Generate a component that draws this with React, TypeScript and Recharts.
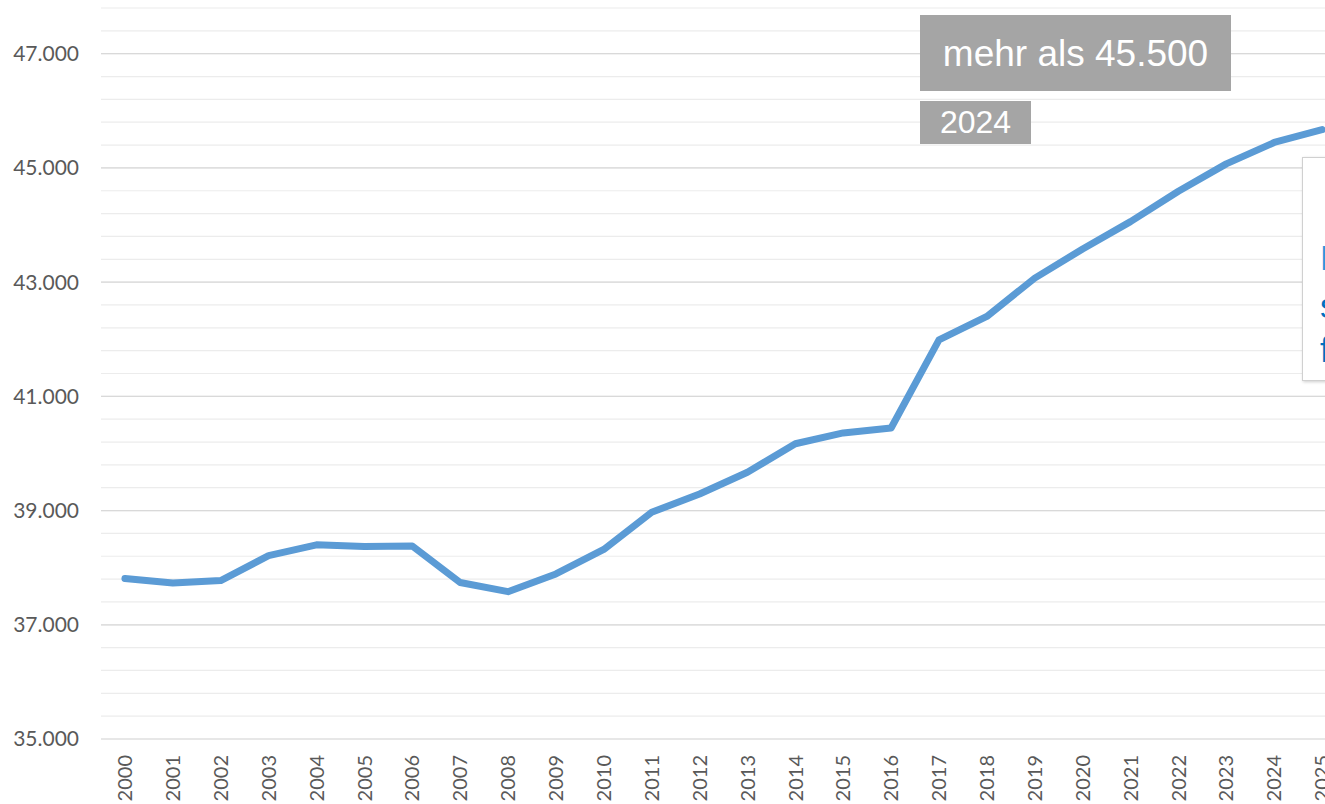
import {
  LineChart,
  Line,
  XAxis,
  YAxis,
  CartesianGrid,
  ReferenceLine,
} from "recharts";

const years = [
  "2000", "2001", "2002", "2003", "2004", "2005", "2006", "2007", "2008",
  "2009", "2010", "2011", "2012", "2013", "2014", "2015", "2016", "2017",
  "2018", "2019", "2020", "2021", "2022", "2023", "2024", "2025",
];

const residents = [
  37810, 37730, 37775, 38210, 38400, 38370, 38380, 37740, 37580, 37890,
  38320, 38970, 39290, 39670, 40170, 40360, 40445, 41990, 42400, 43070,
  43580, 44060, 44590, 45070, 45445, 45670,
];

// every 400 a light grid line, every 2000 a labelled one
const gridTicks = [
  35000, 35400, 35800, 36200, 36600, 37000, 37400, 37800, 38200, 38600,
  39000, 39400, 39800, 40200, 40600, 41000, 41400, 41800, 42200, 42600,
  43000, 43400, 43800, 44200, 44600, 45000, 45400, 45800, 46200, 46600,
  47000, 47400, 47800,
];
const majorTicks = [35000, 37000, 39000, 41000, 43000, 45000, 47000];

const headline = "mehr als 45.500";
const headlineYear = "2024";
const sideNote = ["Neuer Höchststand", "so viele wie nie", "für die Stadt"];

const data = years.map((year, i) => ({ year, value: residents[i] }));

const fmt = (v: number) =>
  majorTicks.includes(v) ? v.toLocaleString("de-DE") : "";

function YearTick({ x, y, payload }: any) {
  return (
    <g transform={`translate(${x},${y})`}>
      <text
        transform="rotate(-90)"
        x={-16}
        y={0}
        dy="0.36em"
        textAnchor="end"
        fill="#595959"
        fontSize={20}
        fontFamily="Lato, sans-serif"
      >
        {payload.value}
      </text>
    </g>
  );
}

export default function App() {
  return (
    <div
      style={{
        position: "absolute",
        left: 0,
        top: 0,
        width: 1325,
        height: 804,
        overflow: "hidden",
        background: "#fff",
      }}
    >
      <LineChart
        width={1346}
        height={804}
        data={data}
        margin={{ top: 8, right: 0, left: 0, bottom: 0 }}
      >
        {/* minor grid */}
        <CartesianGrid vertical={false} stroke="#ececec" strokeWidth={1.2} />

        <XAxis
          dataKey="year"
          scale="band"
          height={65}
          interval={0}
          tickSize={0}
          tickMargin={0}
          axisLine={false}
          tick={<YearTick />}
        />
        <YAxis
          type="number"
          domain={[35000, 47800]}
          ticks={gridTicks}
          interval={0}
          width={101}
          tickSize={0}
          tickMargin={22}
          axisLine={false}
          tickFormatter={fmt}
          tick={{ fill: "#595959", fontSize: 21, fontFamily: "Lato, sans-serif" }}
        />

        {/* major grid */}
        {majorTicks.map((v) => (
          <ReferenceLine key={v} y={v} stroke="#d9d9d9" strokeWidth={1.2} />
        ))}

        <Line
          type="linear"
          dataKey="value"
          stroke="#5b9bd5"
          strokeWidth={7}
          strokeLinecap="round"
          strokeLinejoin="round"
          dot={false}
          activeDot={false}
          isAnimationActive={false}
        />
      </LineChart>

      {/* annotations */}
      <div
        style={{
          position: "absolute",
          left: 920,
          top: 15,
          width: 311,
          height: 76,
          background: "#a5a5a5",
          color: "#fff",
          fontFamily: "'Liberation Sans', Arial, sans-serif",
          fontSize: 37,
          lineHeight: "78px",
          textAlign: "center",
        }}
      >
        {headline}
      </div>
      <div
        style={{
          position: "absolute",
          left: 920,
          top: 101,
          width: 111,
          height: 43,
          background: "#a5a5a5",
          color: "#fff",
          fontFamily: "'Liberation Sans', Arial, sans-serif",
          fontSize: 32,
          lineHeight: "43px",
          textAlign: "center",
        }}
      >
        {headlineYear}
      </div>
      <div
        style={{
          position: "absolute",
          left: 1302,
          top: 157,
          width: 360,
          height: 224,
          background: "#fff",
          border: "1px solid #d0d0d0",
          boxShadow: "1px 1px 3px rgba(0,0,0,0.2)",
          boxSizing: "border-box",
          paddingLeft: 17,
          paddingTop: 78,
          fontFamily: "'Liberation Sans', Arial, sans-serif",
          fontSize: 35,
          lineHeight: "44px",
          whiteSpace: "nowrap",
        }}
      >
        <div style={{ color: "#2f96dc" }}>{sideNote[0]}</div>
        <div style={{ color: "#0070c0", marginTop: 4 }}>{sideNote[1]}</div>
        <div style={{ color: "#0070c0" }}>{sideNote[2]}</div>
      </div>
    </div>
  );
}
